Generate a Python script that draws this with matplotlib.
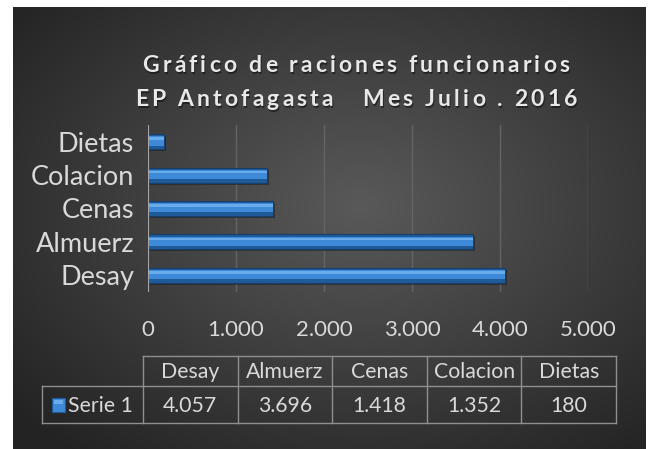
import numpy as np
import matplotlib
matplotlib.use("Agg")
import matplotlib.pyplot as plt
from matplotlib.patches import Rectangle
from matplotlib.font_manager import FontProperties

categories = ["Desay", "Almuerz", "Cenas", "Colacion", "Dietas"]
values = [4057, 3696, 1418, 1352, 180]
value_labels = ["4.057", "3.696", "1.418", "1.352", "180"]
xticks = [0, 1000, 2000, 3000, 4000, 5000]
xtick_labels = ["0", "1.000", "2.000", "3.000", "4.000", "5.000"]
series_name = "Serie 1"
title_lines = ["Gráfico de raciones funcionarios", "EP Antofagasta   Mes Julio . 2016"]

W, H = 650, 449
fig = plt.figure(figsize=(W / 100, H / 100), dpi=100)
fig.patch.set_facecolor("white")
FONT = ["Lato", "DejaVu Sans"]
TXT = "#d9d9d9"

# background with radial gradient
x0, x1, y0, y1 = 13, 646, 7, 449
bg = fig.add_axes([x0 / W, 1 - y1 / H, (x1 - x0) / W, (y1 - y0) / H])
bg.set_axis_off()
yy, xx = np.mgrid[0:1:200j, 0:1:300j]
r = np.sqrt(((xx - 0.55) / 0.75) ** 2 + ((yy - 0.45) / 0.75) ** 2)
g = np.clip(0.35 - 0.22 * r, 0.14, 0.35)
bg.imshow(np.dstack([g, g, g]), aspect="auto", extent=[0, 1, 0, 1], interpolation="bilinear")
bg.set_xlim(0, 1)
bg.set_ylim(0, 1)

# plot axes
px_l, px_r, px_t, px_b = 148, 588, 125, 292
ax = fig.add_axes([px_l / W, 1 - px_b / H, (px_r - px_l) / W, (px_b - px_t) / H])
ax.patch.set_alpha(0)
ax.set_xlim(0, 5000)
ax.set_ylim(-0.5, 4.5)
for s in ax.spines.values():
    s.set_visible(False)
for t in xticks[1:]:
    ax.axvline(t, color="#646464", lw=1, zorder=0)
ax.axvline(0, color="#a6a6a6", lw=1.5, zorder=5)

pos = np.arange(len(categories))
h = 0.45
ax.barh(pos - 0.06, values, height=h, left=25, color="#1a1a1a", alpha=0.5, zorder=1)
ax.barh(pos, values, height=h, color="#1f5a99", edgecolor="#163f6c", lw=0.8, zorder=2)
ax.barh(pos + 0.02, values, height=h * 0.62, color="#3f8ad8", zorder=3)
ax.barh(pos + 0.09, values, height=h * 0.18, color="#68acec", zorder=4)

ax.set_yticks(pos)
ax.set_yticklabels(categories, fontsize=19.5, color=TXT, family=FONT)
ax.tick_params(axis="y", length=0, pad=10)
ax.set_xticks(xticks)
ax.set_xticklabels(xtick_labels, fontsize=16, color=TXT, family=FONT)
ax.tick_params(axis="x", length=0, pad=20)

# letter-spaced bold title
tab = fig.add_axes([0, 0, 1, 1])
tab.set_xlim(0, W)
tab.set_ylim(H, 0)
tab.set_axis_off()
tab.patch.set_alpha(0)

renderer = fig.canvas.get_renderer()
tprop = FontProperties(family=FONT, weight="bold", size=16.5)
spacing = 3.2
for line, ly in zip(title_lines, [66, 100]):
    widths = [renderer.get_text_width_height_descent(ch, tprop, ismath=False)[0] for ch in line]
    total = sum(widths) + spacing * (len(line) - 1)
    xpos = 356 - total / 2
    for ch, wch in zip(line, widths):
        tab.text(xpos + 1, ly + 1.5, ch, ha="left", va="center", fontproperties=tprop, color="#111111", alpha=0.6)
        tab.text(xpos, ly, ch, ha="left", va="center", fontproperties=tprop, color="#e8e8e8")
        xpos += wch + spacing

# data table (figure pixel coordinates)
cols = np.linspace(143, 616, len(categories) + 1)
ytop, ymid, ybot = 356, 386, 423
lc = "#8f8f8f"
tab.plot([cols[0], cols[-1]], [ytop, ytop], color=lc, lw=1)
tab.plot([42, cols[-1]], [ymid, ymid], color=lc, lw=1)
tab.plot([42, cols[-1]], [ybot, ybot], color=lc, lw=1)
for c in cols:
    tab.plot([c, c], [ytop, ybot], color=lc, lw=1)
tab.plot([42, 42], [ymid, ybot], color=lc, lw=1)
for i, (cat, lab) in enumerate(zip(categories, value_labels)):
    cx = (cols[i] + cols[i + 1]) / 2
    tab.text(cx, (ytop + ymid) / 2 + 1, cat, ha="center", va="center", fontsize=15.3, color=TXT, family=FONT)
    tab.text(cx, (ymid + ybot) / 2 + 1, lab, ha="center", va="center", fontsize=15.3, color=TXT, family=FONT)
tab.add_patch(Rectangle((52, 398), 13, 14, facecolor="#3f8ad8", edgecolor="#1f5a99", lw=0.8))
tab.add_patch(Rectangle((54, 400), 9, 4, facecolor="#68acec", lw=0))
tab.text(68, (ymid + ybot) / 2 + 1, series_name, ha="left", va="center", fontsize=15.3, color=TXT, family=FONT)

fig.savefig("out.png", dpi=100, facecolor=fig.get_facecolor())
